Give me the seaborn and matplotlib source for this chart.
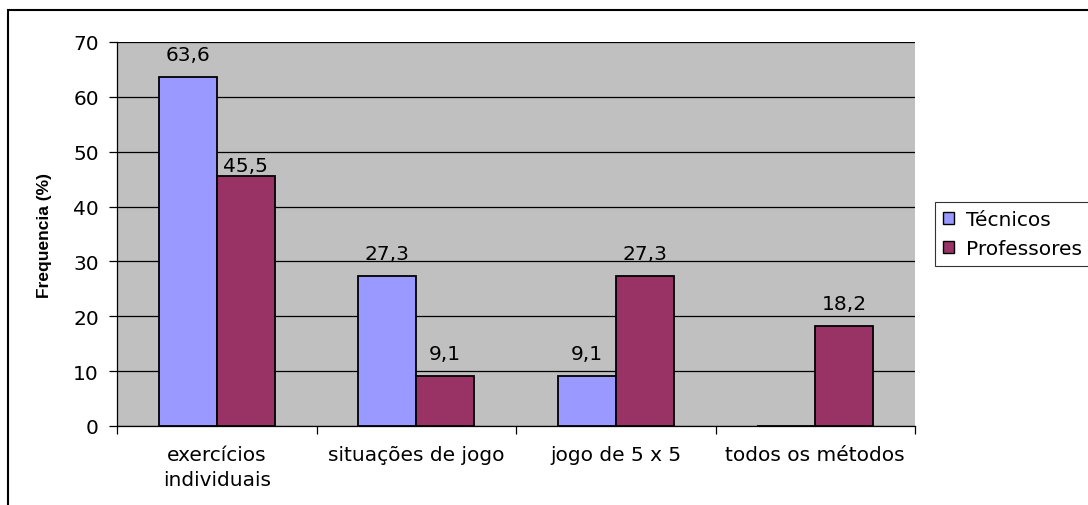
import matplotlib
matplotlib.use("Agg")
import matplotlib.pyplot as plt
import seaborn as sns
import pandas as pd
import numpy as np
from matplotlib.patches import Rectangle, Patch

categories = ["exercícios\nindividuais", "situações de jogo", "jogo de 5 x 5", "todos os métodos"]
tecnicos = [63.6, 27.3, 9.1, 0.0]
professores = [45.5, 9.1, 27.3, 18.2]
series_names = ["Técnicos", "Professores"]
colors = ["#9999FF", "#993366"]

df = pd.DataFrame({
    "cat": categories * 2,
    "val": tecnicos + professores,
    "serie": [series_names[0]] * 4 + [series_names[1]] * 4,
})

sns.set_style("white")
plt.rcParams["font.family"] = ["DejaVu Sans"]
plt.rcParams["text.color"] = "black"
plt.rcParams["xtick.color"] = "black"
plt.rcParams["ytick.color"] = "black"
plt.rcParams["axes.labelcolor"] = "black"

FS = 14.5

fig = plt.figure(figsize=(10.88, 5.06), dpi=100)
ax = fig.add_axes([117/1088, 1 - 427/506, (915-117)/1088, (427-43)/506])
ax.set_facecolor("#C0C0C0")

sns.barplot(data=df, x="cat", y="val", hue="serie", palette=colors, width=0.58, saturation=1,
            edgecolor="black", linewidth=1.3, ax=ax, legend=False, zorder=3)

ax.set_ylim(0, 70)
ax.set_xlim(-0.5, 3.5)
ax.set_yticks(np.arange(0, 71, 10))
ax.yaxis.grid(True, color="black", linewidth=0.9, zorder=0)
ax.set_axisbelow(True)
for s in ["top", "right"]:
    ax.spines[s].set_visible(False)
ax.spines["left"].set_color("#000000")
ax.spines["bottom"].set_color("#000000")
ax.spines["left"].set_linewidth(0.9)
ax.spines["bottom"].set_linewidth(0.9)

ax.tick_params(axis="y", which="major", left=True, length=6, width=0.9, direction="out", labelsize=FS, pad=7)
ax.tick_params(axis="x", which="major", bottom=False, labelsize=FS, pad=10)
for t in ax.get_xticklabels():
    t.set_linespacing(1.4)
ax.set_xticks(np.arange(-0.5, 3.6, 1), minor=True)
ax.tick_params(axis="x", which="minor", bottom=True, length=6, width=0.9, direction="out")
ax.set_xlabel("")
ax.set_ylabel("Frequencia (%)", fontsize=12.5, fontweight="bold", labelpad=15,
              fontfamily="Liberation Sans")

for i, cont in enumerate(ax.containers):
    labels = [("%.1f" % v).replace(".", ",") if v > 0 else "" for v in cont.datavalues]
    anns = ax.bar_label(cont, labels=labels, padding=9.5, fontsize=FS)
    if i == 1:
        anns[0].xyann = (0, 1.0)

handles = [Patch(facecolor=c, edgecolor="black", linewidth=1.0) for c in colors]
leg = fig.legend(handles, series_names, loc="upper left", bbox_to_anchor=(935/1088, 1 - 203/506),
                 frameon=True, fancybox=False, edgecolor="#000000", fontsize=FS,
                 handlelength=0.55, handleheight=0.55, handletextpad=0.6, borderpad=0.4,
                 labelspacing=0.5, borderaxespad=0)
leg.get_frame().set_linewidth(0.8)

fig.patches.append(Rectangle((8/1088, -0.1), 1.2, 1 - 11/506 + 0.1, transform=fig.transFigure,
                             fill=False, edgecolor="black", linewidth=1.5))

fig.savefig("out.png", dpi=100)
